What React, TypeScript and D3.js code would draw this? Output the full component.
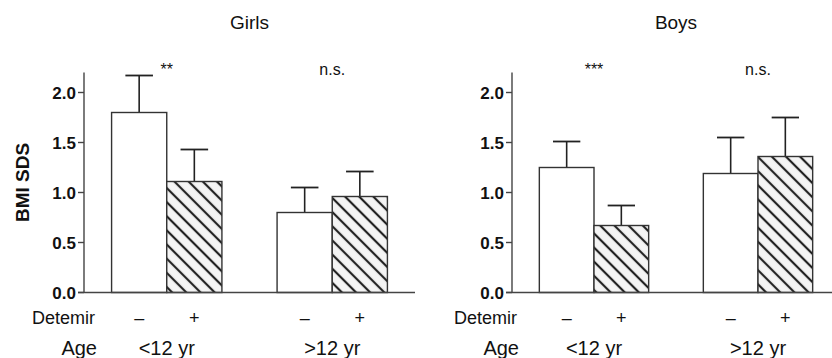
import React from 'react';
import * as d3 from 'd3';

// BMI SDS by age group and detemir treatment
const ageGroups = ['<12 yr', '>12 yr'];
const detemir = ['–', '+'];
const girlsMean = [1.8, 1.11, 0.8, 0.96];
const girlsErr = [0.37, 0.32, 0.25, 0.25];
const boysMean = [1.25, 0.67, 1.19, 1.36];
const boysErr = [0.26, 0.2, 0.36, 0.39];
const girlsSig = ['**', 'n.s.'];
const boysSig = ['***', 'n.s.'];
const yTicks = [0, 0.5, 1.0, 1.5, 2.0];

const W = 832;
const H = 358;
const FONT = '"Liberation Sans", Arial, sans-serif';
const INK = '#222';

type PanelProps = {
  title: string;
  mean: number[];
  err: number[];
  sig: string[];
  x0: number;
  x1: number;
  lineEnd: number;
  showYTitle?: boolean;
  labelEnd: number;
};

const y = d3.scaleLinear().domain([0, 2.2]).range([292.5, 72.5]);

function Panel({ title, mean, err, sig, x0, x1, lineEnd, showYTitle, labelEnd }: PanelProps) {
  const xg = d3.scaleBand().domain(ageGroups).range([x0, x1]).paddingInner(1 / 3).paddingOuter(1 / 6);
  const xi = d3.scaleBand().domain(detemir).range([0, xg.bandwidth()]);
  const bars = ageGroups.flatMap((g, gi) =>
    detemir.map((d, di) => ({ g, d, gi, di, v: mean[gi * 2 + di], e: err[gi * 2 + di] }))
  );
  const bw = xi.bandwidth();
  const cx0 = xg(ageGroups[0])!;
  const cx1 = xg(ageGroups[1])! + xg.bandwidth();
  return (
    <g>
      <text x={(cx0 + cx1) / 2} y={29} textAnchor="middle" fontSize={19} fill="#111">{title}</text>
      {ageGroups.map((g, gi) => (
        <text key={g} x={xg(g)! + xg.bandwidth() / 2} y={75} textAnchor="middle" fontSize={16} fill="#111">{sig[gi]}</text>
      ))}
      {bars.map(b => {
        const bx = xg(b.g)! + xi(b.d)!;
        const cx = bx + bw / 2;
        const top = y(b.v);
        const et = y(b.v + b.e);
        return (
          <g key={b.g + b.d}>
            <line x1={cx} x2={cx} y1={top} y2={et} stroke={INK} strokeWidth={1.6} />
            <line x1={cx - bw / 4} x2={cx + bw / 4} y1={et} y2={et} stroke={INK} strokeWidth={1.8} />
            <rect x={bx} y={top} width={bw} height={y(0) - top}
              fill={b.di === 1 ? 'url(#hatch)' : '#fff'} stroke="#333" strokeWidth={1.4} />
          </g>
        );
      })}
      {/* axes */}
      <line x1={x0} x2={x0} y1={y(2.2)} y2={y(0)} stroke="#444" strokeWidth={1.4} />
      <line x1={x0 - 6} x2={lineEnd} y1={y(0)} y2={y(0)} stroke="#444" strokeWidth={1.4} />
      {yTicks.map(t => (
        <g key={t}>
          <line x1={x0 - 6} x2={x0} y1={y(t)} y2={y(t)} stroke="#444" strokeWidth={1.4} />
          <text x={x0 - 8} y={y(t)} dy="0.36em" textAnchor="end" fontSize={17} fontWeight="bold" fill="#111">{t.toFixed(1)}</text>
        </g>
      ))}
      {showYTitle && (
        <text transform={`translate(22,${(y(0) + y(2.2)) / 2}) rotate(-90)`} textAnchor="middle" dy="0.36em"
          fontSize={19} fontWeight="bold" fill="#111">BMI SDS</text>
      )}
      <text x={labelEnd} y={318} dy="0.36em" textAnchor="end" fontSize={18} fill="#111">Detemir</text>
      <text x={labelEnd + 2} y={348} dy="0.36em" textAnchor="end" fontSize={20} fill="#111">Age</text>
      {bars.map(b => (
        <text key={'t' + b.g + b.d} x={xg(b.g)! + xi(b.d)! + bw / 2} y={318} dy="0.36em" textAnchor="middle" fontSize={18} fill="#111">{b.d}</text>
      ))}
      {ageGroups.map(g => (
        <text key={'a' + g} x={xg(g)! + xg.bandwidth() / 2} y={348} dy="0.36em" textAnchor="middle" fontSize={20} fill="#111">{g}</text>
      ))}
    </g>
  );
}

export default function App() {
  return (
    <svg width={W} height={H} style={{ position: 'absolute', left: 0, top: 0, background: '#fff' }} fontFamily={FONT}>
      <defs>
        <pattern id="hatch" patternUnits="userSpaceOnUse" width={10} height={10} patternTransform="rotate(45)">
          <rect width={10} height={10} fill="#f4f4f4" />
          <line x1={0} y1={0} x2={10} y2={0} stroke="#222" strokeWidth={2.2} transform="translate(0,5)" />
        </pattern>
      </defs>
      <Panel title="Girls" mean={girlsMean} err={girlsErr} sig={girlsSig} x0={84} x1={415} lineEnd={415} showYTitle labelEnd={95} />
      <Panel title="Boys" mean={boysMean} err={boysErr} sig={boysSig} x0={512} x1={840} lineEnd={832} labelEnd={517} />
    </svg>
  );
}
